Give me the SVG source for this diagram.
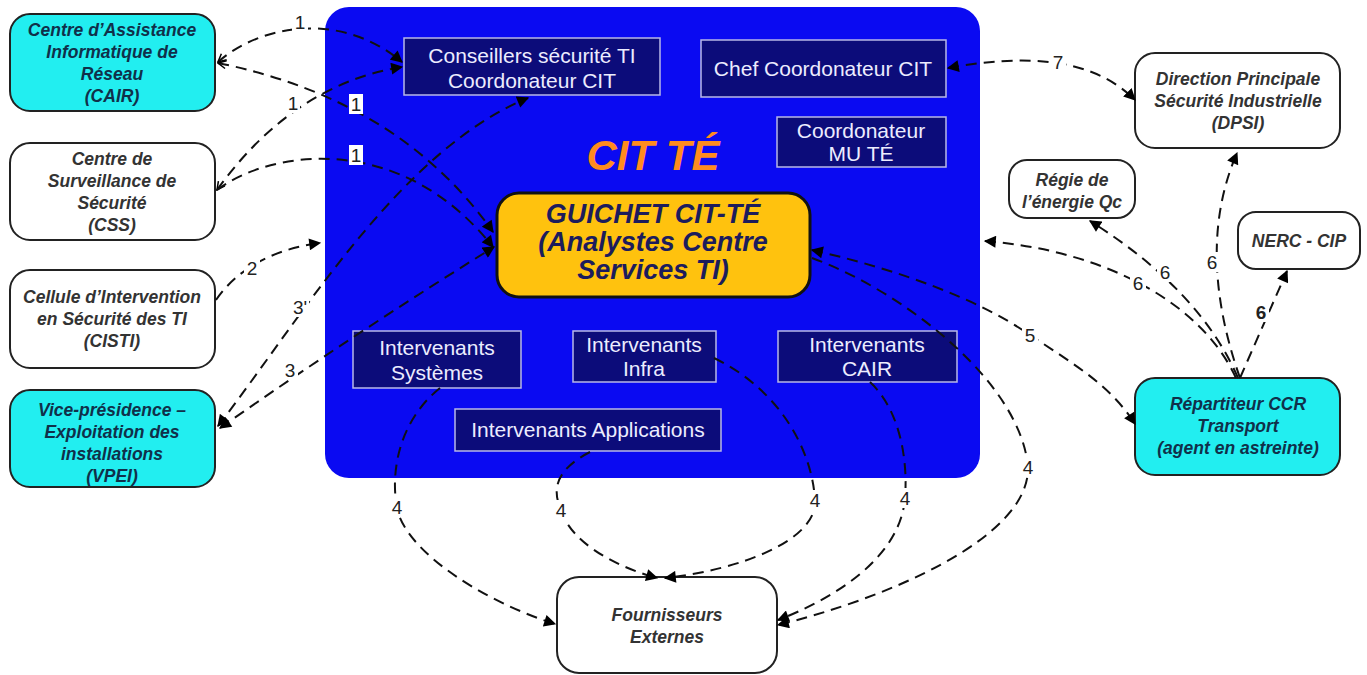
<svg xmlns="http://www.w3.org/2000/svg" width="1367" height="675" viewBox="0 0 1367 675">
<defs>
<marker id="arr" viewBox="0 0 10 10" refX="9" refY="5" markerWidth="6.5" markerHeight="6" orient="auto-start-reverse" markerUnits="strokeWidth">
<path d="M0 0 L10 5 L0 10 Z" fill="#000"/>
</marker>
<marker id="vee" viewBox="0 0 10 10" refX="1" refY="5" markerWidth="5" markerHeight="5" orient="auto" markerUnits="strokeWidth">
<path d="M9 1 L1 5 L9 9" fill="none" stroke="#000" stroke-width="1.5"/>
</marker>
<style>
.ext{stroke:#222;stroke-width:2}
.cy{fill:#22EEF0}
.wh{fill:#fff}
.ext-t{font-family:"Liberation Sans",Arial,sans-serif;font-weight:bold;font-style:italic;font-size:17.5px;text-anchor:middle}
.cy-t{fill:#10304a}
.wh-t{fill:#333}
.in{fill:#0C0C7A;stroke:#B8B8E8;stroke-width:1.5}
.in-t{font-family:"Liberation Sans",Arial,sans-serif;font-size:21px;fill:#ECECFF;text-anchor:middle}
.c{fill:none;stroke:#111;stroke-width:2;stroke-dasharray:11 7}
.lb{font-family:"Liberation Sans",Arial,sans-serif;font-size:19px;fill:#222;text-anchor:middle}
</style>
</defs>
<rect width="1367" height="675" fill="#fff"/>

<g id="cit-te">
<rect x="325" y="7" width="655" height="471" rx="24" fill="#0A0AF2"/>
<text x="653" y="170" font-family="Liberation Sans,Arial,sans-serif" font-weight="bold" font-style="italic" font-size="42" fill="#FF8C1E" text-anchor="middle">CIT TÉ</text>
</g>

<g id="conseillers">
<rect class="in" x="404" y="38" width="256" height="57"/>
<text class="in-t" x="532" y="63">Conseillers sécurité TI</text>
<text class="in-t" x="532" y="88">Coordonateur CIT</text>
</g>
<g id="chef">
<rect class="in" x="701" y="40" width="245" height="57"/>
<text class="in-t" x="823" y="76">Chef Coordonateur CIT</text>
</g>
<g id="coord-mu">
<rect class="in" x="777" y="117" width="169" height="50"/>
<text class="in-t" x="861" y="138">Coordonateur</text>
<text class="in-t" x="861" y="161">MU TÉ</text>
</g>
<g id="guichet">
<rect x="497" y="193" width="313" height="104" rx="22" fill="#FFC20E" stroke="#111" stroke-width="3"/>
<g font-family="Liberation Sans,Arial,sans-serif" font-weight="bold" font-style="italic" font-size="27" fill="#1C1C5C" text-anchor="middle">
<text x="653" y="223">GUICHET CIT-TÉ</text>
<text x="653" y="251">(Analystes Centre</text>
<text x="653" y="279">Services TI)</text>
</g>
</g>
<g id="int-sys">
<rect class="in" x="353" y="331" width="168" height="57"/>
<text class="in-t" x="437" y="355">Intervenants</text>
<text class="in-t" x="437" y="380">Systèmes</text>
</g>
<g id="int-infra">
<rect class="in" x="573" y="331" width="143" height="51"/>
<text class="in-t" x="644" y="352">Intervenants</text>
<text class="in-t" x="644" y="376">Infra</text>
</g>
<g id="int-cair">
<rect class="in" x="778" y="331" width="179" height="51"/>
<text class="in-t" x="867" y="352">Intervenants</text>
<text class="in-t" x="867" y="376">CAIR</text>
</g>
<g id="int-app">
<rect class="in" x="455" y="409" width="266" height="42"/>
<text class="in-t" x="588" y="437">Intervenants Applications</text>
</g>

<g id="cair">
<rect class="ext cy" x="10" y="14" width="205" height="97" rx="20"/>
<g class="ext-t cy-t"><text x="112" y="36">Centre d’Assistance</text><text x="112" y="58">Informatique de</text><text x="112" y="80">Réseau</text><text x="112" y="102">(CAIR)</text></g>
</g>
<g id="css">
<rect class="ext wh" x="10" y="143" width="205" height="97" rx="20"/>
<g class="ext-t wh-t"><text x="112" y="165">Centre de</text><text x="112" y="187">Surveillance de</text><text x="112" y="209">Sécurité</text><text x="112" y="231">(CSS)</text></g>
</g>
<g id="cisti">
<rect class="ext wh" x="10" y="270" width="205" height="98" rx="20"/>
<g class="ext-t wh-t"><text x="112" y="303">Cellule d’Intervention</text><text x="112" y="325">en Sécurité des TI</text><text x="112" y="347">(CISTI)</text></g>
</g>
<g id="vpei">
<rect class="ext cy" x="10" y="390" width="205" height="97" rx="20"/>
<g class="ext-t cy-t"><text x="112" y="416">Vice-présidence –</text><text x="112" y="438">Exploitation des</text><text x="112" y="460">installations</text><text x="112" y="482">(VPEI)</text></g>
</g>
<g id="dpsi">
<rect class="ext wh" x="1135" y="53" width="205" height="95" rx="20"/>
<g class="ext-t wh-t"><text x="1238" y="85">Direction Principale</text><text x="1238" y="107">Sécurité Industrielle</text><text x="1238" y="129">(DPSI)</text></g>
</g>
<g id="regie">
<rect class="ext wh" x="1009" y="160" width="126" height="58" rx="18"/>
<g class="ext-t wh-t"><text x="1072" y="186">Régie de</text><text x="1072" y="208">l’énergie Qc</text></g>
</g>
<g id="nerc">
<rect class="ext wh" x="1238" y="212" width="122" height="57" rx="18"/>
<g class="ext-t wh-t"><text x="1299" y="247">NERC - CIP</text></g>
</g>
<g id="repartiteur">
<rect class="ext cy" x="1135" y="378" width="205" height="97" rx="20"/>
<g class="ext-t cy-t"><text x="1238" y="410">Répartiteur CCR</text><text x="1238" y="432">Transport</text><text x="1238" y="454">(agent en astreinte)</text></g>
</g>
<g id="fournisseurs">
<rect class="ext wh" x="557" y="577" width="220" height="96" rx="22"/>
<g class="ext-t wh-t"><text x="667" y="621">Fournisseurs</text><text x="667" y="643">Externes</text></g>
</g>

<g id="connectors">
<path class="c" d="M218 62 C260 25 340 10 402 62" marker-start="url(#vee)" marker-end="url(#arr)"/>
<path class="c" d="M218 63 Q400 100 493 232" marker-start="url(#vee)" marker-end="url(#arr)"/>
<path class="c" d="M217 190 C260 130 320 80 402 67" marker-start="url(#vee)" marker-end="url(#arr)"/>
<path class="c" d="M217 190 C270 150 400 130 493 247" marker-end="url(#arr)"/>
<path class="c" d="M216 300 C240 265 280 248 320 243" marker-end="url(#arr)"/>
<path class="c" d="M218 426 C300 320 400 150 528 98" marker-start="url(#arr)" marker-end="url(#arr)"/>
<path class="c" d="M220 428 Q360 330 494 247" marker-start="url(#arr)" marker-end="url(#arr)"/>
<path class="c" d="M440 388 C400 420 390 470 397 508 C405 550 480 600 555 624" marker-end="url(#arr)"/>
<path class="c" d="M590 452 C555 470 552 490 561 510 C570 540 610 565 657 578" marker-end="url(#arr)"/>
<path class="c" d="M714 358 C780 390 812 450 815 500 C818 540 740 570 665 578" marker-end="url(#arr)"/>
<path class="c" d="M870 382 C900 410 908 460 905 498 C900 560 830 600 778 620" marker-end="url(#arr)"/>
<path class="c" d="M812 258 C900 290 1020 380 1028 467 C1030 540 880 600 778 625" marker-end="url(#arr)"/>
<path class="c" d="M812 250 C900 270 980 300 1030 335 C1075 365 1110 385 1135 424" marker-start="url(#arr)" marker-end="url(#arr)"/>
<path class="c" d="M1238 378 Q1200 290 1090 221" marker-end="url(#arr)"/>
<path class="c" d="M1236 378 C1200 300 1100 250 985 241" marker-end="url(#arr)"/>
<path class="c" d="M1240 378 Q1195 250 1237 153" marker-end="url(#arr)"/>
<path class="c" d="M1240 378 L1287 271" marker-end="url(#arr)"/>
<path class="c" d="M948 68 C1020 55 1090 55 1135 100" marker-start="url(#arr)" marker-end="url(#arr)"/>

<g class="lb">
<rect x="292" y="11" width="16" height="20" fill="#fff"/><text x="300" y="29">1</text>
<rect x="286" y="93" width="14" height="20" fill="#fff"/><text x="293" y="110">1</text>
<rect x="349" y="94" width="14" height="20" fill="#fff"/><text x="356" y="111">1</text>
<rect x="349" y="145" width="14" height="20" fill="#fff"/><text x="356" y="162">1</text>
<rect x="244" y="258" width="16" height="20" fill="#fff"/><text x="252" y="275">2</text>
<rect x="291" y="297" width="18" height="20" fill="#fff"/><text x="300" y="314">3'</text>
<rect x="282" y="360" width="16" height="20" fill="#fff"/><text x="290" y="377">3</text>
<rect x="389" y="497" width="16" height="20" fill="#fff"/><text x="397" y="514">4</text>
<rect x="553" y="500" width="16" height="20" fill="#fff"/><text x="561" y="517">4</text>
<rect x="807" y="490" width="16" height="20" fill="#fff"/><text x="815" y="507">4</text>
<rect x="897" y="488" width="16" height="20" fill="#fff"/><text x="905" y="505">4</text>
<rect x="1020" y="457" width="16" height="20" fill="#fff"/><text x="1028" y="474">4</text>
<rect x="1022" y="325" width="16" height="20" fill="#fff"/><text x="1030" y="342">5</text>
<rect x="1050" y="52" width="16" height="20" fill="#fff"/><text x="1058" y="69">7</text>
<rect x="1157" y="262" width="16" height="20" fill="#fff"/><text x="1165" y="279">6</text>
<rect x="1130" y="273" width="16" height="20" fill="#fff"/><text x="1138" y="290">6</text>
<rect x="1204" y="252" width="16" height="20" fill="#fff"/><text x="1212" y="269">6</text>
<rect x="1253" y="302" width="16" height="20" fill="#fff"/><text x="1261" y="319" font-weight="bold">6</text>
</g>
</g>
</svg>
